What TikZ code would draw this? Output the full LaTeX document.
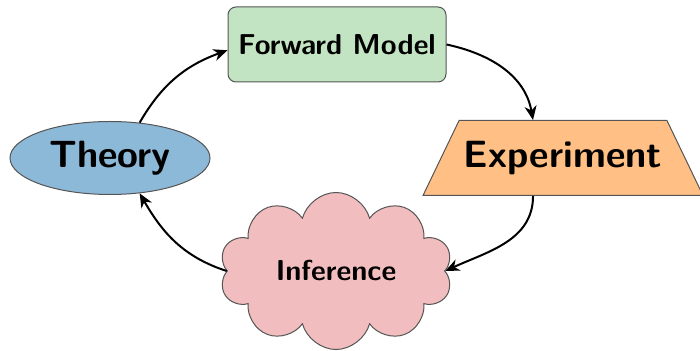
\documentclass[tikz,border=0pt]{standalone}
\usetikzlibrary{shapes.geometric,shapes.symbols,arrows.meta}
\definecolor{cblue}{HTML}{8DB9D9}
\definecolor{cgreen}{HTML}{C2E4C2}
\definecolor{corange}{HTML}{FFBF85}
\definecolor{cpink}{HTML}{F2BDBF}
\definecolor{cedge}{HTML}{555555}
\begin{document}
\begin{tikzpicture}[x=0.5pt,y=-0.5pt,
  box/.style={draw=cedge,line width=0.5pt,inner sep=0pt,font=\sffamily\bfseries},
  link/.style={line width=1pt,-{Stealth[length=7pt,width=6pt,inset=2.2pt]}}]
\useasboundingbox (0,0) rectangle (700,351);
\node[box,ellipse,fill=cblue,minimum width=100pt,minimum height=36.5pt,
  font=\sffamily\bfseries\fontsize{19}{22}\selectfont] (theory) at (110,158) {Theory};
\node[box,rectangle,rounded corners=4pt,fill=cgreen,minimum width=109pt,minimum height=37.5pt,
  font=\sffamily\bfseries\fontsize{14.4}{17}\selectfont] (fwd) at (337,44.5) {Forward Model};
\node[box,trapezium,trapezium left angle=43,trapezium right angle=43,trapezium stretches body,
  fill=corange,minimum width=140pt,minimum height=37.5pt,
  font=\sffamily\bfseries\fontsize{19}{22}\selectfont] (exp) at (563,158) {Experiment};
\node[box,cloud,cloud puffs=10,cloud ignores aspect,fill=cpink,minimum width=116.5pt,minimum height=78.5pt,
  font=\sffamily\bfseries\fontsize{14.4}{17}\selectfont] (inf) at (336,271) {Inference};
\draw[link] (theory.50) to[out=60,in=200] (fwd.183);
\draw[link] (fwd.east) to[out=-12,in=100] ([xshift=-15pt]exp.north);
\draw[link] ([xshift=-15pt]exp.south) to[out=-90,in=25] (inf.east);
\draw[link] (inf.west) to[out=162,in=-60] (theory.-50);
\end{tikzpicture}
\end{document}
